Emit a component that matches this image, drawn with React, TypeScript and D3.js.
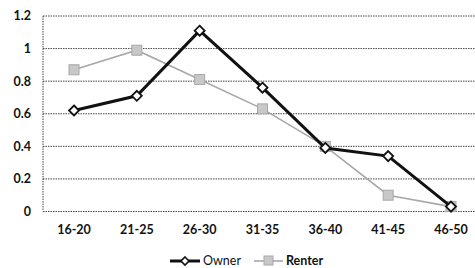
import React from 'react'
import * as d3 from 'd3'

const categories = ['16-20', '21-25', '26-30', '31-35', '36-40', '41-45', '46-50']
const owner = [0.62, 0.71, 1.11, 0.76, 0.39, 0.34, 0.03]
const renter = [0.87, 0.99, 0.81, 0.63, 0.4, 0.1, 0.03]
const yTicks = [0, 0.2, 0.4, 0.6, 0.8, 1, 1.2]

const W = 475
const H = 268
const FONT = 'Lato, "Open Sans", sans-serif'

export default function App() {
  const x = d3.scalePoint<string>().domain(categories).range([74, 451])
  const y = d3.scaleLinear().domain([0, 1.2]).range([211.5, 16])
  const line = d3
    .line<number>()
    .x((_, i) => x(categories[i]) as number)
    .y((d) => y(d))

  const diamond = (cx: number, cy: number, r: number) =>
    `M${cx},${cy - r}L${cx + r},${cy}L${cx},${cy + r}L${cx - r},${cy}Z`

  return (
    <svg
      width={W}
      height={H}
      style={{ position: 'absolute', left: 0, top: 0, background: '#fff' }}
      fontFamily={FONT}
    >
      {yTicks.map((t) => (
        <g key={t}>
          <line x1={43} x2={W} y1={y(t)} y2={y(t)} stroke="#444" strokeWidth={1} strokeDasharray="1.5,1" />
          <text x={31} y={y(t)} dy="0.35em" textAnchor="end" fontSize={12.5} fontWeight="bold" fill="#111">
            {t}
          </text>
        </g>
      ))}
      <line x1={43} x2={43} y1={y(1.2)} y2={y(0)} stroke="#444" strokeDasharray="1.5,1" />
      {categories.map((c) => (
        <text key={c} x={x(c)} y={230} dy="0.35em" textAnchor="middle" fontSize={12.5} fontWeight="bold" fill="#111">
          {c}
        </text>
      ))}

      <path d={line(renter) ?? ''} fill="none" stroke="#a8a8a8" strokeWidth={1.6} />
      {renter.map((v, i) => (
        <rect
          key={i}
          x={(x(categories[i]) as number) - 5}
          y={y(v) - 5}
          width={10}
          height={10}
          fill="#c8c8c8"
          stroke="#a8a8a8"
          strokeWidth={1}
        />
      ))}

      <path d={line(owner) ?? ''} fill="none" stroke="#111" strokeWidth={3} />
      {owner.map((v, i) => (
        <path key={i} d={diamond(x(categories[i]) as number, y(v), 5)} fill="#fff" stroke="#111" strokeWidth={1.8} />
      ))}

      <g>
        <line x1={170} x2={200} y1={261} y2={261} stroke="#111" strokeWidth={3} />
        <path d={diamond(185, 261, 4)} fill="#fff" stroke="#111" strokeWidth={1.6} />
        <text x={203} y={261} dy="0.35em" fontSize={12.5} fill="#111">
          Owner
        </text>
        <line x1={254} x2={283} y1={261} y2={261} stroke="#a8a8a8" strokeWidth={1.6} />
        <rect x={264} y={256} width={9} height={9} fill="#c8c8c8" stroke="#a8a8a8" />
        <text x={286} y={261} dy="0.35em" fontSize={12.5} fontWeight="bold" fill="#111">
          Renter
        </text>
      </g>
    </svg>
  )
}
